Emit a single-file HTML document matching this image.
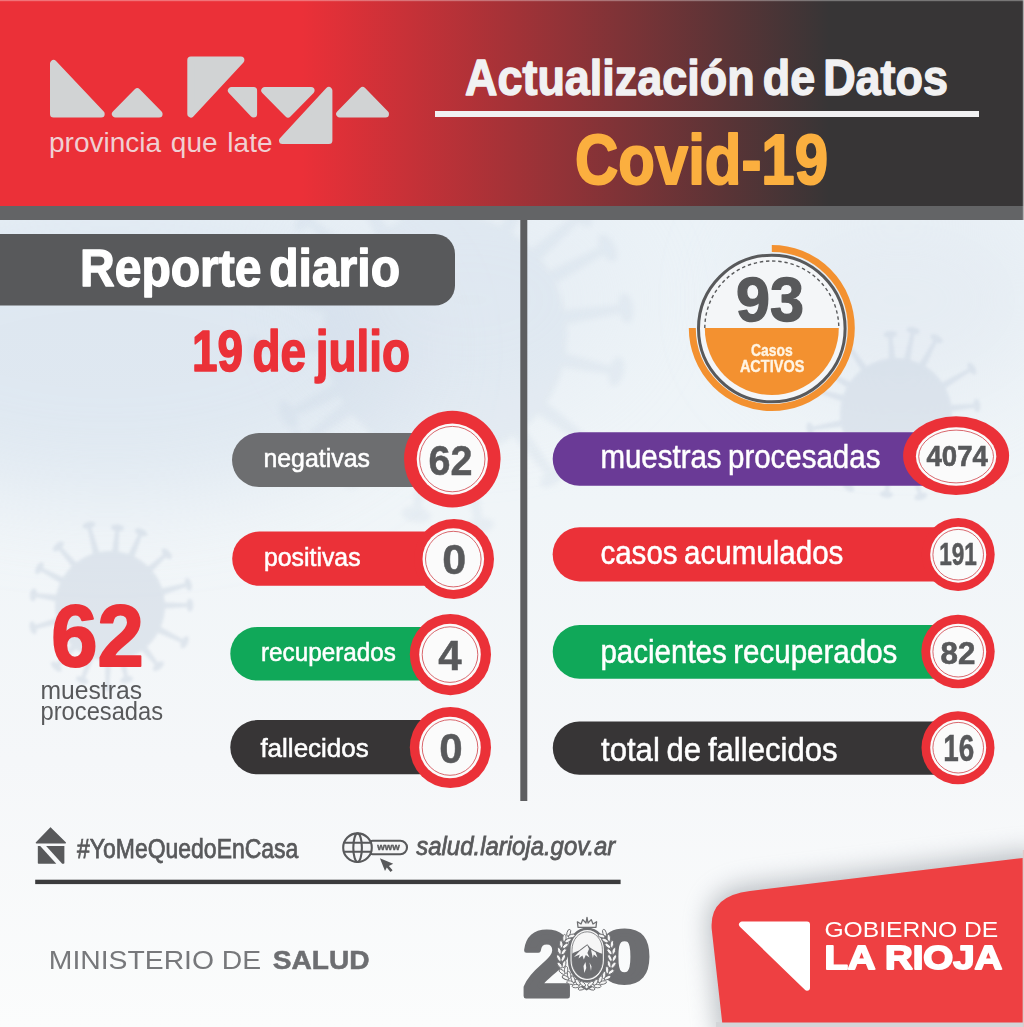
<!DOCTYPE html>
<html lang="es">
<head>
<meta charset="utf-8">
<title>Actualización de Datos Covid-19 - La Rioja</title>
<style>
html,body{margin:0;padding:0;background:#eef2f5;}
body{width:1024px;height:1027px;overflow:hidden;}
svg{display:block;}
text{font-family:"Liberation Sans",sans-serif;}
.b{font-weight:bold;}
.w{fill:#fff;}
.g{fill:#58595b;}
</style>
</head>
<body>
<svg width="1024" height="1027" viewBox="0 0 1024 1027">
<defs>
  <linearGradient id="hdr" x1="0" y1="0" x2="1024" y2="0" gradientUnits="userSpaceOnUse">
    <stop offset="0" stop-color="#eb3038"/>
    <stop offset="0.295" stop-color="#eb3038"/>
    <stop offset="0.81" stop-color="#373536"/>
    <stop offset="1" stop-color="#373536"/>
  </linearGradient>
  <linearGradient id="bg" x1="0" y1="220" x2="0" y2="1027" gradientUnits="userSpaceOnUse">
    <stop offset="0" stop-color="#ebf2f7"/>
    <stop offset="0.35" stop-color="#f0f5f8"/>
    <stop offset="0.67" stop-color="#f5f7f9"/>
    <stop offset="1" stop-color="#fbfcfc"/>
  </linearGradient>
  <filter id="blur6" x="-30%" y="-30%" width="160%" height="160%"><feGaussianBlur stdDeviation="6"/></filter>
  <filter id="blur2" x="-30%" y="-30%" width="160%" height="160%"><feGaussianBlur stdDeviation="1.6"/></filter>
  <filter id="blur3" x="-30%" y="-30%" width="160%" height="160%"><feGaussianBlur stdDeviation="2.6"/></filter>
  <filter id="blur40" x="-50%" y="-50%" width="200%" height="200%"><feGaussianBlur stdDeviation="45"/></filter>
  <filter id="blur12" x="-50%" y="-50%" width="200%" height="200%"><feGaussianBlur stdDeviation="12"/></filter>
</defs>

<!-- ===== BACKGROUND ===== -->
<rect x="0" y="0" width="1024" height="1027" fill="url(#bg)"/>
<g id="viruses">
  <ellipse cx="110" cy="350" rx="300" ry="150" fill="#d3dfec" opacity="0.55" filter="url(#blur40)"/>
  <ellipse cx="470" cy="300" rx="170" ry="120" fill="#d9e2ed" opacity="0.22" filter="url(#blur40)"/>
  <ellipse cx="900" cy="300" rx="150" ry="100" fill="#dfe6ef" opacity="0.5" filter="url(#blur40)"/>
  <g fill="#c2d0e1" opacity="0.21" filter="url(#blur3)"><circle cx="445" cy="335" r="122"/><g transform="rotate(5.5 445 335)"><path d="M437.7 217.9 L441.3 158.4 L448.7 158.4 L452.3 217.9 Z"/><ellipse cx="445" cy="158.4" rx="14.6" ry="7.3"/></g><g transform="rotate(30.1 445 335)"><path d="M437.7 217.9 L441.3 160.2 L448.7 160.2 L452.3 217.9 Z"/><ellipse cx="445" cy="160.2" rx="14.6" ry="7.3"/></g><g transform="rotate(48.5 445 335)"><path d="M437.7 217.9 L441.3 153.7 L448.7 153.7 L452.3 217.9 Z"/><ellipse cx="445" cy="153.7" rx="14.6" ry="7.3"/></g><g transform="rotate(61.8 445 335)"><path d="M437.7 217.9 L441.3 150.6 L448.7 150.6 L452.3 217.9 Z"/><ellipse cx="445" cy="150.6" rx="14.6" ry="7.3"/></g><g transform="rotate(81.5 445 335)"><path d="M437.7 217.9 L441.3 152.2 L448.7 152.2 L452.3 217.9 Z"/><ellipse cx="445" cy="152.2" rx="14.6" ry="7.3"/></g><g transform="rotate(102.0 445 335)"><path d="M437.7 217.9 L441.3 159.8 L448.7 159.8 L452.3 217.9 Z"/><ellipse cx="445" cy="159.8" rx="14.6" ry="7.3"/></g><g transform="rotate(126.9 445 335)"><path d="M437.7 217.9 L441.3 143.6 L448.7 143.6 L452.3 217.9 Z"/><ellipse cx="445" cy="143.6" rx="14.6" ry="7.3"/></g><g transform="rotate(142.7 445 335)"><path d="M437.7 217.9 L441.3 156.9 L448.7 156.9 L452.3 217.9 Z"/><ellipse cx="445" cy="156.9" rx="14.6" ry="7.3"/></g><g transform="rotate(169.8 445 335)"><path d="M437.7 217.9 L441.3 140.9 L448.7 140.9 L452.3 217.9 Z"/><ellipse cx="445" cy="140.9" rx="14.6" ry="7.3"/></g><g transform="rotate(189.1 445 335)"><path d="M437.7 217.9 L441.3 153.0 L448.7 153.0 L452.3 217.9 Z"/><ellipse cx="445" cy="153.0" rx="14.6" ry="7.3"/></g><g transform="rotate(214.7 445 335)"><path d="M437.7 217.9 L441.3 160.7 L448.7 160.7 L452.3 217.9 Z"/><ellipse cx="445" cy="160.7" rx="14.6" ry="7.3"/></g><g transform="rotate(233.0 445 335)"><path d="M437.7 217.9 L441.3 155.4 L448.7 155.4 L452.3 217.9 Z"/><ellipse cx="445" cy="155.4" rx="14.6" ry="7.3"/></g><g transform="rotate(243.0 445 335)"><path d="M437.7 217.9 L441.3 159.2 L448.7 159.2 L452.3 217.9 Z"/><ellipse cx="445" cy="159.2" rx="14.6" ry="7.3"/></g><g transform="rotate(265.3 445 335)"><path d="M437.7 217.9 L441.3 143.8 L448.7 143.8 L452.3 217.9 Z"/><ellipse cx="445" cy="143.8" rx="14.6" ry="7.3"/></g><g transform="rotate(283.5 445 335)"><path d="M437.7 217.9 L441.3 149.0 L448.7 149.0 L452.3 217.9 Z"/><ellipse cx="445" cy="149.0" rx="14.6" ry="7.3"/></g><g transform="rotate(309.9 445 335)"><path d="M437.7 217.9 L441.3 153.6 L448.7 153.6 L452.3 217.9 Z"/><ellipse cx="445" cy="153.6" rx="14.6" ry="7.3"/></g><g transform="rotate(328.7 445 335)"><path d="M437.7 217.9 L441.3 160.4 L448.7 160.4 L452.3 217.9 Z"/><ellipse cx="445" cy="160.4" rx="14.6" ry="7.3"/></g><g transform="rotate(341.8 445 335)"><path d="M437.7 217.9 L441.3 157.2 L448.7 157.2 L452.3 217.9 Z"/><ellipse cx="445" cy="157.2" rx="14.6" ry="7.3"/></g></g>
  <g fill="#c3cfdd" opacity="0.42" filter="url(#blur2)"><circle cx="110" cy="606" r="55"/><g transform="rotate(5.5 110 606)"><path d="M106.7 553.2 L108.3 527.5 L111.7 527.5 L113.3 553.2 Z"/><ellipse cx="110" cy="527.5" rx="6.6" ry="3.3"/></g><g transform="rotate(22.9 110 606)"><path d="M106.7 553.2 L108.3 526.0 L111.7 526.0 L113.3 553.2 Z"/><ellipse cx="110" cy="526.0" rx="6.6" ry="3.3"/></g><g transform="rotate(47.3 110 606)"><path d="M106.7 553.2 L108.3 528.8 L111.7 528.8 L113.3 553.2 Z"/><ellipse cx="110" cy="528.8" rx="6.6" ry="3.3"/></g><g transform="rotate(74.6 110 606)"><path d="M106.7 553.2 L108.3 524.8 L111.7 524.8 L113.3 553.2 Z"/><ellipse cx="110" cy="524.8" rx="6.6" ry="3.3"/></g><g transform="rotate(89.4 110 606)"><path d="M106.7 553.2 L108.3 526.1 L111.7 526.1 L113.3 553.2 Z"/><ellipse cx="110" cy="526.1" rx="6.6" ry="3.3"/></g><g transform="rotate(115.9 110 606)"><path d="M106.7 553.2 L108.3 523.1 L111.7 523.1 L113.3 553.2 Z"/><ellipse cx="110" cy="523.1" rx="6.6" ry="3.3"/></g><g transform="rotate(141.2 110 606)"><path d="M106.7 553.2 L108.3 528.9 L111.7 528.9 L113.3 553.2 Z"/><ellipse cx="110" cy="528.9" rx="6.6" ry="3.3"/></g><g transform="rotate(167.2 110 606)"><path d="M106.7 553.2 L108.3 530.6 L111.7 530.6 L113.3 553.2 Z"/><ellipse cx="110" cy="530.6" rx="6.6" ry="3.3"/></g><g transform="rotate(181.9 110 606)"><path d="M106.7 553.2 L108.3 524.3 L111.7 524.3 L113.3 553.2 Z"/><ellipse cx="110" cy="524.3" rx="6.6" ry="3.3"/></g><g transform="rotate(200.6 110 606)"><path d="M106.7 553.2 L108.3 526.9 L111.7 526.9 L113.3 553.2 Z"/><ellipse cx="110" cy="526.9" rx="6.6" ry="3.3"/></g><g transform="rotate(221.5 110 606)"><path d="M106.7 553.2 L108.3 525.1 L111.7 525.1 L113.3 553.2 Z"/><ellipse cx="110" cy="525.1" rx="6.6" ry="3.3"/></g><g transform="rotate(254.2 110 606)"><path d="M106.7 553.2 L108.3 526.1 L111.7 526.1 L113.3 553.2 Z"/><ellipse cx="110" cy="526.1" rx="6.6" ry="3.3"/></g><g transform="rotate(278.3 110 606)"><path d="M106.7 553.2 L108.3 528.6 L111.7 528.6 L113.3 553.2 Z"/><ellipse cx="110" cy="528.6" rx="6.6" ry="3.3"/></g><g transform="rotate(298.2 110 606)"><path d="M106.7 553.2 L108.3 525.9 L111.7 525.9 L113.3 553.2 Z"/><ellipse cx="110" cy="525.9" rx="6.6" ry="3.3"/></g><g transform="rotate(319.1 110 606)"><path d="M106.7 553.2 L108.3 527.2 L111.7 527.2 L113.3 553.2 Z"/><ellipse cx="110" cy="527.2" rx="6.6" ry="3.3"/></g><g transform="rotate(345.3 110 606)"><path d="M106.7 553.2 L108.3 522.4 L111.7 522.4 L113.3 553.2 Z"/><ellipse cx="110" cy="522.4" rx="6.6" ry="3.3"/></g></g>
  <g fill="#c9d4e2" opacity="0.45" filter="url(#blur2)"><circle cx="896" cy="414" r="56"/><g transform="rotate(11.6 896 414)"><path d="M892.6 360.2 L894.3 328.9 L897.7 328.9 L899.4 360.2 Z"/><ellipse cx="896" cy="328.9" rx="6.7" ry="3.4"/></g><g transform="rotate(28.3 896 414)"><path d="M892.6 360.2 L894.3 328.5 L897.7 328.5 L899.4 360.2 Z"/><ellipse cx="896" cy="328.5" rx="6.7" ry="3.4"/></g><g transform="rotate(59.1 896 414)"><path d="M892.6 360.2 L894.3 325.6 L897.7 325.6 L899.4 360.2 Z"/><ellipse cx="896" cy="325.6" rx="6.7" ry="3.4"/></g><g transform="rotate(84.0 896 414)"><path d="M892.6 360.2 L894.3 332.7 L897.7 332.7 L899.4 360.2 Z"/><ellipse cx="896" cy="332.7" rx="6.7" ry="3.4"/></g><g transform="rotate(100.4 896 414)"><path d="M892.6 360.2 L894.3 328.9 L897.7 328.9 L899.4 360.2 Z"/><ellipse cx="896" cy="328.9" rx="6.7" ry="3.4"/></g><g transform="rotate(117.8 896 414)"><path d="M892.6 360.2 L894.3 330.9 L897.7 330.9 L899.4 360.2 Z"/><ellipse cx="896" cy="330.9" rx="6.7" ry="3.4"/></g><g transform="rotate(142.4 896 414)"><path d="M892.6 360.2 L894.3 334.4 L897.7 334.4 L899.4 360.2 Z"/><ellipse cx="896" cy="334.4" rx="6.7" ry="3.4"/></g><g transform="rotate(163.3 896 414)"><path d="M892.6 360.2 L894.3 327.9 L897.7 327.9 L899.4 360.2 Z"/><ellipse cx="896" cy="327.9" rx="6.7" ry="3.4"/></g><g transform="rotate(186.8 896 414)"><path d="M892.6 360.2 L894.3 333.1 L897.7 333.1 L899.4 360.2 Z"/><ellipse cx="896" cy="333.1" rx="6.7" ry="3.4"/></g><g transform="rotate(213.0 896 414)"><path d="M892.6 360.2 L894.3 326.8 L897.7 326.8 L899.4 360.2 Z"/><ellipse cx="896" cy="326.8" rx="6.7" ry="3.4"/></g><g transform="rotate(231.1 896 414)"><path d="M892.6 360.2 L894.3 331.1 L897.7 331.1 L899.4 360.2 Z"/><ellipse cx="896" cy="331.1" rx="6.7" ry="3.4"/></g><g transform="rotate(260.2 896 414)"><path d="M892.6 360.2 L894.3 326.7 L897.7 326.7 L899.4 360.2 Z"/><ellipse cx="896" cy="326.7" rx="6.7" ry="3.4"/></g><g transform="rotate(286.5 896 414)"><path d="M892.6 360.2 L894.3 326.9 L897.7 326.9 L899.4 360.2 Z"/><ellipse cx="896" cy="326.9" rx="6.7" ry="3.4"/></g><g transform="rotate(301.4 896 414)"><path d="M892.6 360.2 L894.3 331.4 L897.7 331.4 L899.4 360.2 Z"/><ellipse cx="896" cy="331.4" rx="6.7" ry="3.4"/></g><g transform="rotate(325.0 896 414)"><path d="M892.6 360.2 L894.3 326.7 L897.7 326.7 L899.4 360.2 Z"/><ellipse cx="896" cy="326.7" rx="6.7" ry="3.4"/></g><g transform="rotate(355.9 896 414)"><path d="M892.6 360.2 L894.3 334.1 L897.7 334.1 L899.4 360.2 Z"/><ellipse cx="896" cy="334.1" rx="6.7" ry="3.4"/></g></g>
</g>

<!-- ===== HEADER ===== -->
<rect x="0" y="0" width="1024" height="206" fill="url(#hdr)"/>
<rect x="0" y="206" width="1024" height="14" fill="#636466"/>
<!-- logo triangles -->
<g fill="#d1d3d4" stroke="#d1d3d4" stroke-width="7" stroke-linejoin="round">
  <path d="M53.5 63.5 L53.5 114 L101.2 114 Z"/>
  <path d="M137.25 91.7 L115.4 114 L159.1 114 Z"/>
  <path d="M190.8 60 L240.9 60 L190.8 114 Z"/>
  <path d="M231.4 90.5 L253.6 90.5 L253.6 114 Z"/>
  <path d="M264.8 90.5 L311.1 90.5 L288 114 Z"/>
  <path d="M328.9 90.5 L328.9 140.6 L282.5 140.6 Z"/>
  <path d="M362.6 90.5 L339.7 114 L385.5 114 Z"/>
</g>
<text x="49" y="151.5" font-size="27.5" fill="#f0cfd2" word-spacing="2" textLength="223.5" lengthAdjust="spacingAndGlyphs">provincia que late</text>

<!-- title -->
<text x="465" y="95" font-size="50" class="b" fill="#f1f1f2" stroke="#f1f1f2" stroke-width="1.4" stroke-linejoin="round" word-spacing="-5" textLength="483" lengthAdjust="spacingAndGlyphs">Actualización de Datos</text>
<rect x="435" y="111" width="544" height="6" fill="#f1f1f2"/>
<text x="575" y="184" font-size="71" class="b" fill="#fbaf3f" stroke="#fbaf3f" stroke-width="2" stroke-linejoin="round" textLength="253" lengthAdjust="spacingAndGlyphs">Covid-19</text>

<rect x="0" y="0" width="1024" height="1.2" fill="#fff" opacity="0.32"/>
<rect x="1022.8" y="0" width="1.2" height="220" fill="#c9c9c9" opacity="0.8"/>
<!-- vertical divider -->
<rect x="520.3" y="220" width="7" height="581" fill="#5d5e60"/>

<!-- ===== LEFT COLUMN ===== -->
<g id="left">
  <path d="M0 234 H435 A20 20 0 0 1 455 254 V285.5 A20 20 0 0 1 435 305.5 H0 Z" fill="#58595b"/>
  <text x="80" y="286" font-size="51" class="b w" stroke="#fff" stroke-width="1.4" stroke-linejoin="round" word-spacing="-6" textLength="320" lengthAdjust="spacingAndGlyphs">Reporte diario</text>
  <text x="192" y="371" font-size="58" class="b" fill="#eb3138" stroke="#eb3138" stroke-width="1.6" stroke-linejoin="round" word-spacing="-4" textLength="218" lengthAdjust="spacingAndGlyphs">19 de julio</text>

  <!-- big 62 -->
  <text x="51.2" y="666" font-size="87" class="b" fill="#eb3138" stroke="#eb3138" stroke-width="2" stroke-linejoin="round" textLength="92.5" lengthAdjust="spacingAndGlyphs">62</text>
  <text x="40.5" y="699" font-size="25" class="g" textLength="101.5" lengthAdjust="spacingAndGlyphs">muestras</text>
  <text x="40.5" y="719.6" font-size="25" class="g" textLength="122.6" lengthAdjust="spacingAndGlyphs">procesadas</text>

  <!-- row 1 negativas -->
  <path d="M259 433 H452 V487 H259 A27 27 0 0 1 259 433 Z" fill="#6d6e70"/>
  <text x="263.4" y="467" font-size="26.5" class="w" stroke="#fff" stroke-width="0.55" textLength="106.6" lengthAdjust="spacingAndGlyphs">negativas</text>
  <circle cx="452.3" cy="459.1" r="48.3" fill="#eb3138"/>
  <circle cx="452.3" cy="459.1" r="35.6" fill="#fbfbfb"/>
  <circle cx="452.3" cy="459.1" r="32.7" fill="none" stroke="#cf4048" stroke-width="0.8"/>
  <text x="428.6" y="475.2" font-size="43" class="b g" stroke="#58595b" stroke-width="0.5" textLength="44" lengthAdjust="spacingAndGlyphs">62</text>

  <!-- row 2 positivas -->
  <path d="M259.3 531.6 H454 V585.8 H259.3 A27.1 27.1 0 0 1 259.3 531.6 Z" fill="#eb3138"/>
  <text x="264" y="566" font-size="26.5" class="w" stroke="#fff" stroke-width="0.55" textLength="96.6" lengthAdjust="spacingAndGlyphs">positivas</text>
  <circle cx="454" cy="559" r="40" fill="#eb3138"/>
  <circle cx="453.3" cy="559.1" r="30.8" fill="#fbfbfb"/>
  <circle cx="453.3" cy="559.1" r="27.8" fill="none" stroke="#cf4048" stroke-width="0.8"/>
  <text x="442.2" y="574.2" font-size="43" class="b g" stroke="#58595b" stroke-width="0.5" textLength="24" lengthAdjust="spacingAndGlyphs">0</text>

  <!-- row 3 recuperados -->
  <path d="M257.1 627 H450 V680.6 H257.1 A26.8 26.8 0 0 1 257.1 627 Z" fill="#10a859"/>
  <text x="261" y="660.5" font-size="26.5" class="w" stroke="#fff" stroke-width="0.55" textLength="134.8" lengthAdjust="spacingAndGlyphs">recuperados</text>
  <circle cx="450.4" cy="654.6" r="40.6" fill="#eb3138"/>
  <circle cx="450" cy="654.6" r="30.8" fill="#fbfbfb"/>
  <circle cx="450" cy="654.6" r="27.8" fill="none" stroke="#cf4048" stroke-width="0.8"/>
  <text x="438.3" y="669.9" font-size="43" class="b g" stroke="#58595b" stroke-width="0.5" textLength="23.4" lengthAdjust="spacingAndGlyphs">4</text>

  <!-- row 4 fallecidos -->
  <path d="M257.4 720.1 H450 V774.3 H257.4 A27.1 27.1 0 0 1 257.4 720.1 Z" fill="#373536"/>
  <text x="260.4" y="756.8" font-size="26.5" class="w" stroke="#fff" stroke-width="0.55" textLength="108.4" lengthAdjust="spacingAndGlyphs">fallecidos</text>
  <circle cx="450.4" cy="747.5" r="40.6" fill="#eb3138"/>
  <circle cx="450" cy="747.5" r="30.8" fill="#fbfbfb"/>
  <circle cx="450" cy="747.5" r="27.8" fill="none" stroke="#cf4048" stroke-width="0.8"/>
  <text x="439.2" y="762.8" font-size="43" class="b g" stroke="#58595b" stroke-width="0.5" textLength="23.4" lengthAdjust="spacingAndGlyphs">0</text>
</g>

<!-- ===== RIGHT COLUMN ===== -->
<g id="right">
  <!-- 93 badge -->
  <path d="M771.8 248.5 A79.5 79.5 0 1 1 692.3 328" fill="none" stroke="#f39130" stroke-width="7"/>
  <circle cx="771.8" cy="328.5" r="73.3" fill="#f4f6f8" stroke="#58595b" stroke-width="3"/>
  <path d="M704.8 328 A67 67 0 0 0 838.8 328 Z" fill="#f39130"/>
  <path d="M704.8 328 A67 67 0 0 1 838.8 328" fill="none" stroke="#58595b" stroke-width="1.4" stroke-dasharray="3.4 2.8"/>
  <text x="736" y="321.4" font-size="63.5" class="b g" stroke="#58595b" stroke-width="1.4" stroke-linejoin="round" textLength="68" lengthAdjust="spacingAndGlyphs">93</text>
  <text x="751" y="356.2" font-size="16.4" class="b" fill="#fff4e3" stroke="#fff4e3" stroke-width="0.4" textLength="41.7" lengthAdjust="spacingAndGlyphs">Casos</text>
  <text x="739.9" y="371.7" font-size="16.6" class="b" fill="#fff4e3" stroke="#fff4e3" stroke-width="0.4" textLength="64.5" lengthAdjust="spacingAndGlyphs">ACTIVOS</text>

  <!-- row 1 -->
  <path d="M579.4 432.3 H956 V485.7 H579.4 A26.7 26.7 0 0 1 579.4 432.3 Z" fill="#6a3a96"/>
  <text x="600.4" y="468.4" font-size="33" class="w" stroke="#fff" stroke-width="0.5" word-spacing="-2" textLength="280" lengthAdjust="spacingAndGlyphs">muestras procesadas</text>
  <ellipse cx="956.1" cy="455.7" rx="53" ry="39.4" fill="#eb3138"/>
  <ellipse cx="956.1" cy="456.5" rx="40.2" ry="29.2" fill="#fbfbfb"/>
  <ellipse cx="956.1" cy="456.5" rx="37.4" ry="26.4" fill="none" stroke="#cf4048" stroke-width="0.8"/>
  <text x="926.5" y="465.9" font-size="29" class="b g" stroke="#58595b" stroke-width="0.6" textLength="61.5" lengthAdjust="spacingAndGlyphs">4074</text>

  <!-- row 2 -->
  <path d="M579.7 527.3 H958 V581.4 H579.7 A27 27 0 0 1 579.7 527.3 Z" fill="#eb3138"/>
  <text x="600.4" y="563.6" font-size="33" class="w" stroke="#fff" stroke-width="0.5" word-spacing="-2" textLength="243" lengthAdjust="spacingAndGlyphs">casos acumulados</text>
  <circle cx="958.2" cy="554.5" r="36.5" fill="#eb3138"/>
  <circle cx="958.2" cy="554.7" r="28" fill="#fbfbfb"/>
  <circle cx="958.2" cy="554.7" r="25.3" fill="none" stroke="#cf4048" stroke-width="0.8"/>
  <text x="939.2" y="565" font-size="31" class="b g" stroke="#58595b" stroke-width="0.6" textLength="37.6" lengthAdjust="spacingAndGlyphs">191</text>

  <!-- row 3 -->
  <path d="M579.6 624.9 H958 V678.7 H579.6 A26.9 26.9 0 0 1 579.6 624.9 Z" fill="#10a859"/>
  <text x="600.4" y="663" font-size="33" class="w" stroke="#fff" stroke-width="0.5" word-spacing="-2" textLength="297" lengthAdjust="spacingAndGlyphs">pacientes recuperados</text>
  <circle cx="958" cy="651.5" r="36.7" fill="#eb3138"/>
  <circle cx="958.2" cy="651.7" r="28" fill="#fbfbfb"/>
  <circle cx="958.2" cy="651.7" r="25.3" fill="none" stroke="#cf4048" stroke-width="0.8"/>
  <text x="940.5" y="663.5" font-size="31" class="b g" stroke="#58595b" stroke-width="0.6" textLength="34.8" lengthAdjust="spacingAndGlyphs">82</text>

  <!-- row 4 -->
  <path d="M579.4 721.4 H958 V774.7 H579.4 A26.65 26.65 0 0 1 579.4 721.4 Z" fill="#373536"/>
  <text x="601" y="760.5" font-size="33" class="w" stroke="#fff" stroke-width="0.5" word-spacing="-2" textLength="236.6" lengthAdjust="spacingAndGlyphs">total de fallecidos</text>
  <circle cx="958" cy="747.7" r="36.5" fill="#eb3138"/>
  <circle cx="958.2" cy="747.7" r="28" fill="#fbfbfb"/>
  <circle cx="958.2" cy="747.7" r="25.3" fill="none" stroke="#cf4048" stroke-width="0.8"/>
  <text x="943.2" y="761" font-size="37.6" class="b g" stroke="#58595b" stroke-width="0.5" textLength="31" lengthAdjust="spacingAndGlyphs">16</text>
</g>

<!-- ===== FOOTER ===== -->
<g id="footer">
  <!-- house icon -->
  <g fill="#58595b">
    <path d="M50.5 828.2 L65.2 842.7 L36.5 842.7 Z" stroke="#58595b" stroke-width="1.6" stroke-linejoin="round"/>
    <path d="M37.8 845.9 H40.2 L56.3 863.7 H38.6 A0.8 0.8 0 0 1 37.8 862.9 Z"/>
    <path d="M46.1 845.9 H64.4 V862.9 A0.8 0.8 0 0 1 63.6 863.7 H62.2 Z"/>
  </g>
  <text x="77.1" y="858.3" font-size="27" class="g" stroke="#58595b" stroke-width="0.75" textLength="221.2" lengthAdjust="spacingAndGlyphs">#YoMeQuedoEnCasa</text>

  <!-- globe + www icon -->
  <g fill="none" stroke="#58595b" stroke-width="2.1">
    <rect x="366" y="840.8" width="41" height="13.4" rx="6.7" fill="#f5f6f7"/>
    <circle cx="357.5" cy="847.7" r="14.3" fill="#f5f6f7"/>
    <ellipse cx="357.6" cy="847.7" rx="4.3" ry="14.3"/>
    <path d="M344.3 842.7 H370.7 M344.3 851.7 H370.7"/>
  </g>
  <text x="377.2" y="850.3" font-size="9.6" class="b g" stroke="#58595b" stroke-width="0.4" textLength="22.6" lengthAdjust="spacingAndGlyphs">www</text>
  <path d="M379.9 858.2 L393.2 863.7 L388.9 865.9 L392.6 870.2 L390.5 871.9 L386.8 867.5 L385 871.1 Z" fill="#58595b"/>
  <text x="416.3" y="855.3" font-size="26.5" font-style="italic" class="g" stroke="#58595b" stroke-width="0.8" textLength="199" lengthAdjust="spacingAndGlyphs">salud.larioja.gov.ar</text>

  <!-- rule -->
  <rect x="35.2" y="879.7" width="585.4" height="4.4" fill="#3b3b3d"/>

  <!-- ministerio -->
  <text x="48.8" y="968.8" font-size="26" fill="#77787b" textLength="212.4" lengthAdjust="spacingAndGlyphs">MINISTERIO DE</text>
  <text x="272.8" y="968.8" font-size="26" class="b" fill="#6d6e71" stroke="#6d6e71" stroke-width="0.5" textLength="96.8" lengthAdjust="spacingAndGlyphs">SALUD</text>

  <!-- 200 emblem -->
  <g id="e200">
    <text x="523" y="995.6" font-size="90" class="b" fill="#6d6e71" stroke="#6d6e71" stroke-width="5" stroke-linejoin="round" textLength="48" lengthAdjust="spacingAndGlyphs">2</text>
    <text x="599" y="981.6" font-size="72" class="b" fill="#6d6e71" stroke="#6d6e71" stroke-width="5" stroke-linejoin="round" textLength="51" lengthAdjust="spacingAndGlyphs">0</text>
    <rect x="569.2" y="928.8" width="36" height="52.6" rx="18" ry="21" fill="#f6f6f6" stroke="#6d6e71" stroke-width="2.6"/>
    <rect x="572" y="931.8" width="30.4" height="46.6" rx="15.2" ry="18" fill="none" stroke="#6d6e71" stroke-width="0.8"/>
    <clipPath id="ovc"><rect x="572" y="931.8" width="30.4" height="46.6" rx="15.2" ry="18"/></clipPath>
    <g clip-path="url(#ovc)">
      <path d="M568 956 L574 952.5 L579 950.5 L583.5 947 L587.3 944.3 L590 947.5 L594.5 950.5 L600 953 L606 955 V985 H568 Z" fill="#6d6e71"/>
      <path d="M587.3 945.2 L589 949 L587.4 953 L589.5 957.5 L585.8 955 L583.8 959.5 L582.4 955.5 L578.5 958.5 L579.8 954.5 L574 957 L579.5 951.2 L583.8 948 Z" fill="#f6f6f6"/>
      <path d="M591 949.5 L595.5 952.3 L597.5 957.5 L593.8 954.5 L592.8 958 Z" fill="#f6f6f6"/>
      <path d="M583.5 966 L585.5 962 L586.3 968 L584.3 973 Z M589.5 962.5 L591.5 966.5 L591 971 Z" fill="#f6f6f6"/>
    </g>
    <path d="M578 927.3 L577.4 921.8 L581 924 L582.8 919.6 L586 923 L587 917.4 L588 923 L591.2 919.6 L593 924 L596.6 921.8 L596 927.3 Z" fill="#f6f6f6" stroke="#6d6e71" stroke-width="1.3" stroke-linejoin="round"/>
    <g fill="#f6f6f6" stroke="#6d6e71" stroke-width="0.9">
      <ellipse cx="581.7" cy="988.2" rx="3.6" ry="1.7" transform="rotate(-196 581.7 988.2)"/><ellipse cx="582.6" cy="983.9" rx="3.6" ry="1.7" transform="rotate(-140 582.6 983.9)"/><ellipse cx="575.7" cy="986.1" rx="3.6" ry="1.7" transform="rotate(-182 575.7 986.1)"/><ellipse cx="577.6" cy="982.2" rx="3.6" ry="1.7" transform="rotate(-126 577.6 982.2)"/><ellipse cx="570.2" cy="982.6" rx="3.6" ry="1.7" transform="rotate(-168 570.2 982.6)"/><ellipse cx="573.0" cy="979.2" rx="3.6" ry="1.7" transform="rotate(-112 573.0 979.2)"/><ellipse cx="565.6" cy="977.7" rx="3.6" ry="1.7" transform="rotate(-155 565.6 977.7)"/><ellipse cx="569.1" cy="975.0" rx="3.6" ry="1.7" transform="rotate(-99 569.1 975.0)"/><ellipse cx="562.1" cy="971.8" rx="3.6" ry="1.7" transform="rotate(-143 562.1 971.8)"/><ellipse cx="566.1" cy="969.9" rx="3.6" ry="1.7" transform="rotate(-87 566.1 969.9)"/><ellipse cx="559.8" cy="965.1" rx="3.6" ry="1.7" transform="rotate(-131 559.8 965.1)"/><ellipse cx="564.1" cy="964.1" rx="3.6" ry="1.7" transform="rotate(-75 564.1 964.1)"/><ellipse cx="558.9" cy="958.1" rx="3.6" ry="1.7" transform="rotate(-120 558.9 958.1)"/><ellipse cx="563.3" cy="958.0" rx="3.6" ry="1.7" transform="rotate(-64 563.3 958.0)"/><ellipse cx="559.4" cy="951.0" rx="3.6" ry="1.7" transform="rotate(-108 559.4 951.0)"/><ellipse cx="563.7" cy="951.7" rx="3.6" ry="1.7" transform="rotate(-52 563.7 951.7)"/><ellipse cx="561.3" cy="944.2" rx="3.6" ry="1.7" transform="rotate(-97 561.3 944.2)"/><ellipse cx="565.4" cy="945.8" rx="3.6" ry="1.7" transform="rotate(-41 565.4 945.8)"/><ellipse cx="564.4" cy="938.0" rx="3.6" ry="1.7" transform="rotate(-85 564.4 938.0)"/><ellipse cx="568.1" cy="940.4" rx="3.6" ry="1.7" transform="rotate(-29 568.1 940.4)"/><ellipse cx="568.7" cy="932.8" rx="3.6" ry="1.7" transform="rotate(-72 568.7 932.8)"/><ellipse cx="571.7" cy="936.0" rx="3.6" ry="1.7" transform="rotate(-16 571.7 936.0)"/><ellipse cx="591.5" cy="988.2" rx="3.6" ry="1.7" transform="rotate(16 591.5 988.2)"/><ellipse cx="590.6" cy="983.9" rx="3.6" ry="1.7" transform="rotate(-40 590.6 983.9)"/><ellipse cx="597.5" cy="986.1" rx="3.6" ry="1.7" transform="rotate(2 597.5 986.1)"/><ellipse cx="595.6" cy="982.2" rx="3.6" ry="1.7" transform="rotate(-54 595.6 982.2)"/><ellipse cx="603.0" cy="982.6" rx="3.6" ry="1.7" transform="rotate(-12 603.0 982.6)"/><ellipse cx="600.2" cy="979.2" rx="3.6" ry="1.7" transform="rotate(-68 600.2 979.2)"/><ellipse cx="607.6" cy="977.7" rx="3.6" ry="1.7" transform="rotate(-25 607.6 977.7)"/><ellipse cx="604.1" cy="975.0" rx="3.6" ry="1.7" transform="rotate(-81 604.1 975.0)"/><ellipse cx="611.1" cy="971.8" rx="3.6" ry="1.7" transform="rotate(-37 611.1 971.8)"/><ellipse cx="607.1" cy="969.9" rx="3.6" ry="1.7" transform="rotate(-93 607.1 969.9)"/><ellipse cx="613.4" cy="965.1" rx="3.6" ry="1.7" transform="rotate(-49 613.4 965.1)"/><ellipse cx="609.1" cy="964.1" rx="3.6" ry="1.7" transform="rotate(-105 609.1 964.1)"/><ellipse cx="614.3" cy="958.1" rx="3.6" ry="1.7" transform="rotate(-60 614.3 958.1)"/><ellipse cx="609.9" cy="958.0" rx="3.6" ry="1.7" transform="rotate(-116 609.9 958.0)"/><ellipse cx="613.8" cy="951.0" rx="3.6" ry="1.7" transform="rotate(-72 613.8 951.0)"/><ellipse cx="609.5" cy="951.7" rx="3.6" ry="1.7" transform="rotate(-128 609.5 951.7)"/><ellipse cx="611.9" cy="944.2" rx="3.6" ry="1.7" transform="rotate(-83 611.9 944.2)"/><ellipse cx="607.8" cy="945.8" rx="3.6" ry="1.7" transform="rotate(-139 607.8 945.8)"/><ellipse cx="608.8" cy="938.0" rx="3.6" ry="1.7" transform="rotate(-95 608.8 938.0)"/><ellipse cx="605.1" cy="940.4" rx="3.6" ry="1.7" transform="rotate(-151 605.1 940.4)"/><ellipse cx="604.5" cy="932.8" rx="3.6" ry="1.7" transform="rotate(-108 604.5 932.8)"/><ellipse cx="601.5" cy="936.0" rx="3.6" ry="1.7" transform="rotate(-164 601.5 936.0)"/>
    </g>
    <path d="M581.5 986.5 L586.6 989.5 L591.7 986.5" fill="none" stroke="#6d6e71" stroke-width="1.6"/>
  </g>

  <!-- red badge -->
  <path d="M1040 850 L748 885 Q706 890 708 928 L718 1040 L1040 1040 Z" fill="#7d8590" opacity="0.5" filter="url(#blur12)"/>
  <rect x="716" y="1022" width="308" height="5" fill="#d3d5d8"/>
  <path d="M1022.8 858 L750 891 Q708.5 896 711.8 930 L722.2 1022.5 L1022.8 1022.5 Z" fill="#ee4042"/>
  <rect x="1022.8" y="850" width="1.2" height="177" fill="#e3c9c9"/>
  <path d="M742 924.5 L807 924.5 L807 987.7 Z" fill="#fff" stroke="#fff" stroke-width="6" stroke-linejoin="round"/>
  <text x="824.4" y="937.2" font-size="22.5" class="w" textLength="173.8" lengthAdjust="spacingAndGlyphs">GOBIERNO DE</text>
  <text x="824.4" y="968.8" font-size="33" class="b w" stroke="#fff" stroke-width="1.8" stroke-linejoin="round" textLength="178" lengthAdjust="spacingAndGlyphs">LA RIOJA</text>
</g>

</svg>
</body>
</html>
